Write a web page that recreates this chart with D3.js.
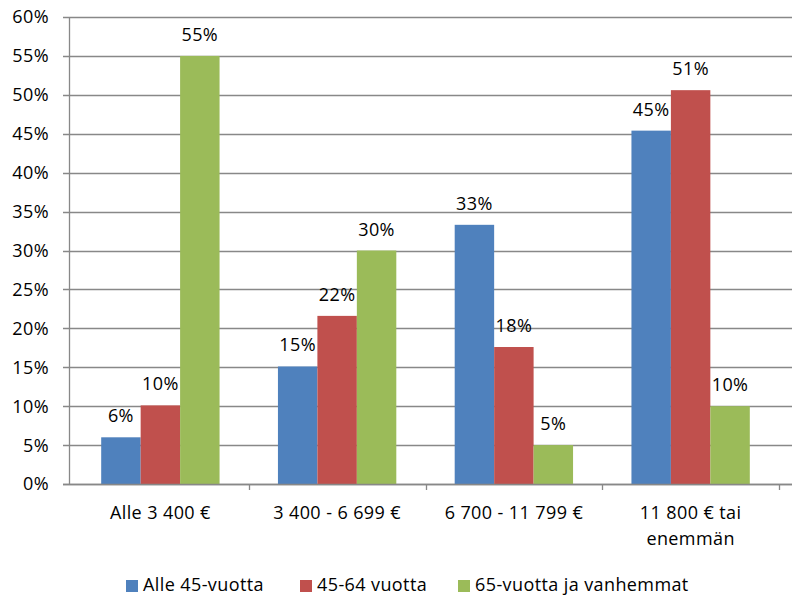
<!DOCTYPE html>
<html>
<head>
<meta charset="utf-8">
<script src="https://cdn.jsdelivr.net/npm/d3@7"></script>
<style>
  html, body { margin: 0; padding: 0; background: #fff; }
  svg { display: block; }
  text { font-family: "Open Sans", Lato, sans-serif; fill: #000; letter-spacing: 0.4px; }
</style>
</head>
<body>
<svg id="chart" width="792" height="597"></svg>
<script>
const categories = ["Alle 3 400 €", "3 400 - 6 699 €", "6 700 - 11 799 €", "11 800 € tai enemmän"];
const categoryLines = [["Alle 3 400 €"], ["3 400 - 6 699 €"], ["6 700 - 11 799 €"], ["11 800 € tai", "enemmän"]];
const seriesNames = ["Alle 45-vuotta", "45-64 vuotta", "65-vuotta ja vanhemmat"];
const seriesColors = ["#4F81BD", "#C0504D", "#9BBB59"];
const alle45 = [6.0, 15.1, 33.3, 45.4];
const v45to64 = [10.1, 21.6, 17.6, 50.6];
const v65plus = [55.0, 30.0, 5.0, 10.0];
const yTicks = [0, 5, 10, 15, 20, 25, 30, 35, 40, 45, 50, 55, 60];

const seriesValues = [alle45, v45to64, v65plus];
const svg = d3.select("#chart");

const mLeft = 69, mRight = 779, mTop = 17, mBottom = 484, gridRight = 792;

const x0 = d3.scaleBand().domain(categories).range([72, mRight]).paddingInner(0).paddingOuter(0);
const x1 = d3.scaleBand().domain(seriesNames).range([0, x0.bandwidth()]).paddingInner(0).paddingOuter(0.74);
const y = d3.scaleLinear().domain([0, 60]).range([mBottom, mTop]);

// gridlines
svg.append("g").selectAll("line").data(yTicks).join("line")
  .attr("x1", mLeft - 6).attr("x2", gridRight)
  .attr("y1", d => Math.round(y(d)) + 0.5).attr("y2", d => Math.round(y(d)) + 0.5)
  .attr("stroke", "#888").attr("stroke-width", 1.3);

// y labels
svg.append("g").selectAll("text").data(yTicks).join("text")
  .attr("x", 49).attr("y", d => y(d)).attr("dy", "0.36em")
  .attr("text-anchor", "end").attr("font-size", 18)
  .text(d => d + "%");

// bars
const groups = svg.append("g").selectAll("g").data(categories).join("g")
  .attr("transform", d => `translate(${x0(d)},0)`);
groups.selectAll("rect").data((c, ci) => seriesNames.map((s, si) => ({ s, si, v: seriesValues[si][ci] })))
  .join("rect")
  .attr("x", d => x1(d.s)).attr("width", x1.bandwidth())
  .attr("y", d => y(d.v)).attr("height", d => y(0) - y(d.v))
  .attr("fill", d => seriesColors[d.si]);
groups.selectAll("text").data((c, ci) => seriesNames.map((s, si) => ({ s, si, v: seriesValues[si][ci] })))
  .join("text")
  .attr("x", d => x1(d.s) + x1.bandwidth() / 2)
  .attr("y", d => y(d.v) - 15)
  .attr("text-anchor", "middle").attr("font-size", 18)
  .text(d => Math.round(d.v) + "%");

// axes lines
svg.append("line").attr("x1", mLeft + 0.5).attr("x2", mLeft + 0.5).attr("y1", mTop).attr("y2", mBottom + 0.5)
  .attr("stroke", "#888").attr("stroke-width", 1.3);
svg.append("line").attr("x1", mLeft - 6).attr("x2", gridRight).attr("y1", mBottom + 0.5).attr("y2", mBottom + 0.5)
  .attr("stroke", "#888").attr("stroke-width", 1.3);
// x ticks
const xTickPos = categories.map(c => x0(c) + x0.bandwidth());
svg.append("g").selectAll("line").data(xTickPos).join("line")
  .attr("x1", d => Math.round(d) + 0.5).attr("x2", d => Math.round(d) + 0.5)
  .attr("y1", mBottom).attr("y2", mBottom + 6)
  .attr("stroke", "#888").attr("stroke-width", 1.3);

// x labels
const xl = svg.append("g").selectAll("text").data(categories).join("text")
  .attr("x", d => x0(d) + x0.bandwidth() / 2)
  .attr("y", 519).attr("text-anchor", "middle").attr("font-size", 18);
xl.each(function(d, i) {
  const t = d3.select(this);
  categoryLines[i].forEach((ln, j) => {
    t.append("tspan").attr("x", x0(d) + x0.bandwidth() / 2).attr("dy", j === 0 ? 0 : 26).text(ln);
  });
});

// legend
const legendX = [126, 300, 458];
const lg = svg.append("g").selectAll("g").data(seriesNames).join("g")
  .attr("transform", (d, i) => `translate(${legendX[i]},580)`);
lg.append("rect").attr("width", 12).attr("height", 12).attr("fill", (d, i) => seriesColors[i]);
lg.append("text").attr("x", 17).attr("y", 11).attr("font-size", 18).text(d => d);
</script>
</body>
</html>
